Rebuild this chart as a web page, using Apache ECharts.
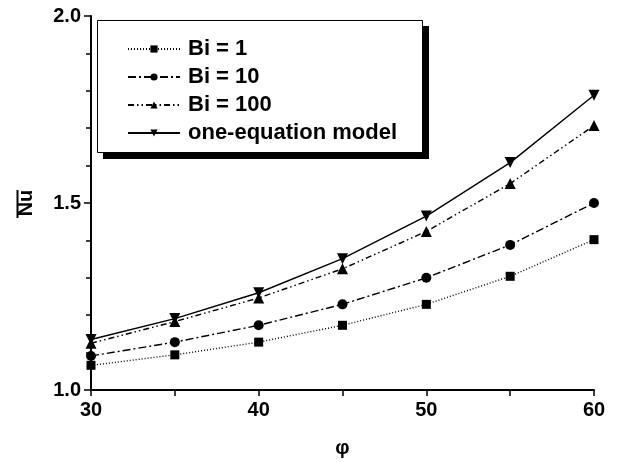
<!DOCTYPE html>
<html>
<head>
<meta charset="utf-8">
<script src="https://cdn.jsdelivr.net/npm/echarts@6/dist/echarts.min.js"></script>
<style>html,body{margin:0;padding:0;background:#fff}#c{width:619px;height:463px}</style>
</head>
<body>
<div id="c"></div>
<script>
var phi = [30, 35, 40, 45, 50, 55, 60];
var bi1 = [1.066, 1.094, 1.128, 1.173, 1.229, 1.304, 1.402];
var bi10 = [1.091, 1.128, 1.173, 1.229, 1.300, 1.388, 1.500];
var bi100 = [1.125, 1.183, 1.246, 1.324, 1.424, 1.552, 1.707];
var oneEq = [1.135, 1.191, 1.260, 1.351, 1.465, 1.608, 1.788];
var names = ['Bi = 1', 'Bi = 10', 'Bi = 100', 'one-equation model'];

function pairs(ys) { return phi.map(function (x, i) { return [x, ys[i]]; }); }
var FONT = '"Liberation Sans", Arial, Helvetica, sans-serif';
var chart = echarts.init(document.getElementById('c'), null, {renderer: 'canvas'});
var downTri = 'path://M0,0 L10,0 L5,9 Z';
function mk(name, data, symbol, size, ltype) {
  return {
    name: name, type: 'line', data: pairs(data),
    symbol: symbol, symbolSize: size, showSymbol: true,
    lineStyle: {color: '#000', width: 1.4, type: ltype},
    itemStyle: {color: '#000'},
    animation: false, z: 3
  };
}
chart.setOption({
  animation: false,
  backgroundColor: '#fff',
  grid: {left: 91, right: 25, top: 16, bottom: 71, containLabel: false},
  xAxis: {
    type: 'value', min: 30, max: 60, interval: 10,
    name: 'φ', nameLocation: 'middle', nameGap: 48,
    nameTextStyle: {fontFamily: FONT, fontWeight: 'bold', fontSize: 20, color: '#000'},
    axisLine: {show: true, lineStyle: {color: '#000', width: 2}},
    axisTick: {show: true, length: 6, lineStyle: {color: '#000', width: 1.5}},
    minorTick: {show: true, splitNumber: 2, length: 6, lineStyle: {color: '#000', width: 1.5}},
    splitLine: {show: false},
    axisLabel: {fontFamily: FONT, fontWeight: 'bold', fontSize: 20, color: '#000', margin: 10}
  },
  yAxis: {
    type: 'value', min: 1.0, max: 2.0, interval: 0.5,
    name: 'Nu', nameLocation: 'middle', nameGap: 55, nameRotate: 90,
    nameTextStyle: {fontFamily: FONT, fontWeight: 'bold', fontSize: 20, color: '#000'},
    axisLine: {show: true, lineStyle: {color: '#000', width: 2}},
    axisTick: {show: true, length: 7, lineStyle: {color: '#000', width: 1.5}},
    minorTick: {show: true, splitNumber: 5, length: 5, lineStyle: {color: '#000', width: 1.5}},
    splitLine: {show: false},
    axisLabel: {fontFamily: FONT, fontWeight: 'bold', fontSize: 20, color: '#000', margin: 10,
      formatter: function (v) { return v.toFixed(1); }}
  },
  legend: {
    data: names,
    orient: 'vertical', left: 97, top: 20,
    padding: [18, 22, 14, 30],
    itemGap: 6, itemWidth: 52, itemHeight: 9,
    textStyle: {fontFamily: FONT, fontWeight: 'bold', fontSize: 22, color: '#000', padding: [0, 0, 0, 3]}
  },
  graphic: [
    {type: 'rect', shape: {x: 103, y: 26, width: 326, height: 133}, style: {fill: '#000'}, z: 1},
    {type: 'rect', shape: {x: 97.5, y: 20.5, width: 325, height: 132}, style: {fill: '#fff', stroke: '#000', lineWidth: 1}, z: 2},
    {type: 'line', shape: {x1: 17.5, y1: 190, x2: 17.5, y2: 218}, style: {stroke: '#000', lineWidth: 2}, z: 10}
  ],
  series: [
    mk(names[0], bi1, 'rect', 9, [1, 2]),
    mk(names[1], bi10, 'circle', 10, [8, 3, 2, 3]),
    mk(names[2], bi100, 'triangle', 11, [6, 3, 1.5, 3, 1.5, 3]),
    mk(names[3], oneEq, downTri, 11, 'solid')
  ]
});
</script>
</body>
</html>
